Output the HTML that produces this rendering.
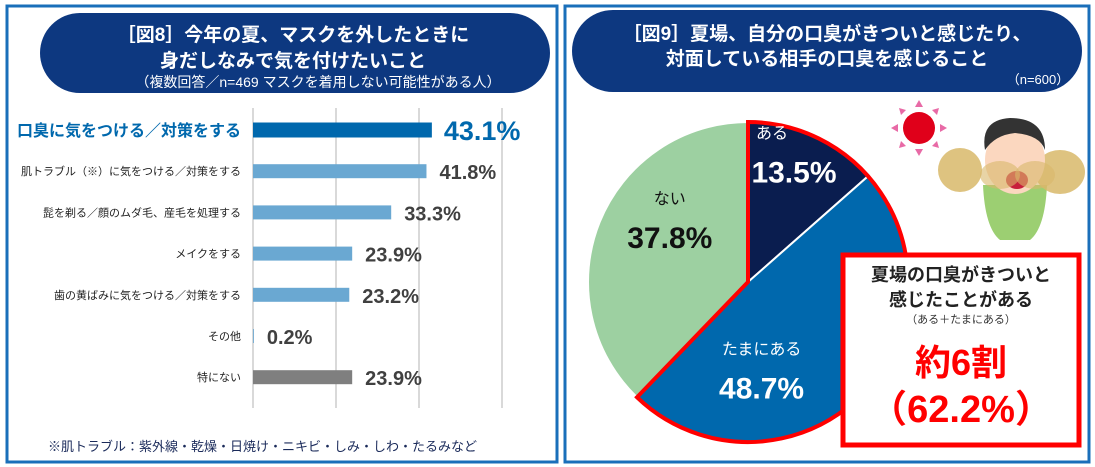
<!DOCTYPE html>
<html><head><meta charset="utf-8">
<style>
body{margin:0;width:1095px;height:467px;background:#fff;overflow:hidden;font-family:"Liberation Sans","Noto Sans CJK JP",sans-serif;}
svg{display:block}
</style></head>
<body>
<svg width="1095" height="467" viewBox="0 0 1095 467">
 <rect x="7" y="6" width="550" height="456" fill="#fff" stroke="#1a6fba" stroke-width="3"/>
 <rect x="565" y="6" width="524" height="456" fill="#fff" stroke="#1a6fba" stroke-width="3"/>
 <rect x="40" y="13" width="510" height="80" rx="40" fill="#0d3880"/>
 <text x="293" y="41" fill="#fff" font-size="19" font-weight="bold" text-anchor="middle">［図8］今年の夏、マスクを外したときに</text>
 <text x="293" y="67" fill="#fff" font-size="19" font-weight="bold" text-anchor="middle">身だしなみで気を付けたいこと</text>
 <text x="318" y="87" fill="#fff" font-size="14" text-anchor="middle">（複数回答／n=469 マスクを着用しない可能性がある人）</text>
 <g id="bars"></g>
 <text x="48" y="451" fill="#1a2a5a" font-size="13">※肌トラブル：紫外線・乾燥・日焼け・ニキビ・しみ・しわ・たるみなど</text>

 <rect x="572" y="10" width="510" height="82" rx="41" fill="#0d3880"/>
 <text x="827" y="40" fill="#fff" font-size="19" font-weight="bold" text-anchor="middle">［図9］夏場、自分の口臭がきついと感じたり、</text>
 <text x="827" y="65" fill="#fff" font-size="19" font-weight="bold" text-anchor="middle">対面している相手の口臭を感じること</text>
 <text x="1038" y="84" fill="#fff" font-size="13" text-anchor="middle">（n=600）</text>
 <g id="pie"></g>

 <g>
  <circle cx="919" cy="128" r="16" fill="#e0001a"/>
  <g fill="#e86aa6">
   <polygon points="919,100 915,107 923,107"/><polygon points="919,156 915,149 923,149"/>
   <polygon points="891,128 898,124 898,132"/><polygon points="947,128 940,124 940,132"/>
   <polygon points="899,108 906,110 901,115"/><polygon points="939,108 932,110 937,115"/>
   <polygon points="899,148 906,146 901,141"/><polygon points="939,148 932,146 937,141"/>
  </g>
 </g>
 <g>
  <path d="M983,185 Q985,228 1000,240 L1030,240 Q1045,228 1047,185 Z" fill="#9ccf72"/>
  <ellipse cx="960" cy="170" rx="22" ry="22" fill="#d8b86a" opacity="0.85"/>
  <ellipse cx="1060" cy="172" rx="25" ry="22" fill="#d8b86a" opacity="0.85"/>
  <ellipse cx="1015" cy="160" rx="30" ry="34" fill="#fbd7bf"/>
  <path d="M985,150 Q980,120 1010,118 Q1045,118 1045,150 Q1040,135 1015,133 Q995,135 985,150Z" fill="#333"/>
  <ellipse cx="1017" cy="180" rx="11" ry="9" fill="#c81e3c"/>
  <ellipse cx="1000" cy="175" rx="20" ry="14" fill="#d8b86a" opacity="0.6"/>
  <ellipse cx="1035" cy="175" rx="20" ry="14" fill="#d8b86a" opacity="0.6"/>
 </g>

 <rect x="843" y="255" width="236" height="190" fill="#fff" stroke="#f00" stroke-width="5"/>
 <text x="961" y="281" fill="#222" font-size="18" font-weight="bold" text-anchor="middle">夏場の口臭がきついと</text>
 <text x="961" y="306" fill="#222" font-size="18" font-weight="bold" text-anchor="middle">感じたことがある</text>
 <text x="961" y="323" fill="#333" font-size="11" text-anchor="middle">（ある＋たまにある）</text>
 <text x="961" y="375" fill="#f00" font-size="36" font-weight="bold" text-anchor="middle">約6割</text>
 <text x="961" y="422" fill="#f00" font-size="38" font-weight="bold" text-anchor="middle">（62.2%）</text>
</svg>
<script>
const barCategories=["口臭に気をつける／対策をする","肌トラブル（※）に気をつける／対策をする","髭を剃る／顔のムダ毛、産毛を処理する","メイクをする","歯の黄ばみに気をつける／対策をする","その他","特にない"];
const barValues=[43.1,41.8,33.3,23.9,23.2,0.2,23.9];
const gridTicks=[0,20,40,60];
const pieLabels=["ある","たまにある","ない"];
const pieValues=[13.5,48.7,37.8];

const NS="http://www.w3.org/2000/svg";
function mk(tag,attrs,parent,text){const e=document.createElementNS(NS,tag);for(const k in attrs)e.setAttribute(k,attrs[k]);if(text!==undefined)e.textContent=text;parent.appendChild(e);return e;}
const bars=document.getElementById('bars');
const x0=253,pxPer=4.15,rowY0=130,rowStep=41.2;
const xs=v=>x0+v*pxPer, ys=i=>rowY0+i*rowStep;
gridTicks.forEach(t=>{const l=mk('line',{x1:xs(t),x2:xs(t),y1:108,y2:408,stroke:'#d9d9d9','stroke-width':2},bars);

});
barCategories.forEach((c,i)=>{
 const y=ys(i),first=i===0,last=i===barCategories.length-1;
 const color=first?'#0068ad':(last?'#7f7f7f':'#6aa8d2');
 const h=first?15:14;
 const r=mk('rect',{x:x0,y:y-h/2,width:Math.max(0,barValues[i]*pxPer),height:h,fill:color},bars);
 
 
 const lab=mk('text',{x:241,y:y+(first?6:4),'text-anchor':'end','font-size':first?16:11,'font-weight':first?'bold':'normal',fill:first?'#0068ad':'#222'},bars,c);
 
 
 const vt=mk('text',{x:xs(barValues[i])+(first?12:13),y:y+(first?10:8),'font-size':first?27:20,'font-weight':'bold',fill:first?'#0068ad':'#404040'},bars,barValues[i].toFixed(1)+'%');
 
 
});

const pie=document.getElementById('pie');
const cx=748,cy=282,R=160;
const total=pieValues.reduce((a,b)=>a+b,0);
const colors=['#0a1d4f','#0068ad','#9dd0a1'];
const pt=(a,r)=>[cx+r*Math.sin(a),cy-r*Math.cos(a)];
let a=0;const angles=[];
pieValues.forEach((v,i)=>{
 const a1=a+v/total*2*Math.PI;angles.push([a,a1]);
 const p0=pt(a,R),p1=pt(a1,R),large=(a1-a)>Math.PI?1:0;
 const p=mk('path',{d:`M${cx},${cy}L${p0[0]},${p0[1]}A${R},${R} 0 ${large} 1 ${p1[0]},${p1[1]}Z`,fill:colors[i],stroke:'#fff','stroke-width':2},pie);
 
 
 a=a1;
});
{const s=angles[0][0],e=angles[1][1];const p0=pt(s,R),p1=pt(e,R);const large=(e-s)>Math.PI?1:0;
 const o=mk('path',{d:`M${cx},${cy}L${p0[0]},${p0[1]}A${R},${R} 0 ${large} 1 ${p1[0]},${p1[1]}Z`,fill:'none',stroke:'#f00','stroke-width':4,'stroke-linejoin':'miter'},pie);
 
 }
const labelR=[0.82,0.62,0.5];
const labelDX=[-8,-55,-4];
const labelDY=[0,25,-24];
pieValues.forEach((v,i)=>{
 const [s,e]=angles[i];const mid=(s+e)/2;
 const p=pt(mid,R*labelR[i]);
 const x=p[0]+labelDX[i],y=p[1]+labelDY[i];
 const tc=i===2?'#111':'#fff';
 const t1=mk('text',{x:x-(i===0?22:0),y:y-24,'text-anchor':'middle','font-size':16,fill:tc},pie,pieLabels[i]);
 
 
 const t2=mk('text',{x:x,y:y+20,'text-anchor':'middle','font-size':30,'font-weight':'bold',fill:tc},pie,v.toFixed(1)+'%');
 
 
});
</script>
</body></html>
